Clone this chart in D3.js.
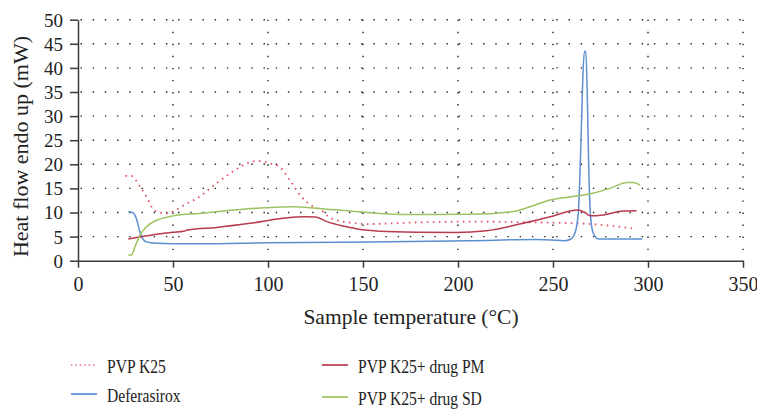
<!DOCTYPE html>
<html>
<head>
<meta charset="utf-8">
<script src="https://d3js.org/d3.v7.min.js"></script>
<style>
  body { margin: 0; background: #fff; }
  svg { display: block; }
  text { font-family: "Liberation Serif", "DejaVu Serif", serif; fill: #222; }
</style>
</head>
<body>
<script>

  // temperature (°C), heat flow (mW)
  var pvpK25 = [[25,17.6],[28,17.6],[32.5,15.4],[36,13.3],[40,10.5],[43,10.0],[47,9.8],[50,10.2],
    [56,11.6],[62.5,12.9],[69.5,15.0],[76.5,17.1],[83.5,19.0],[89.5,20.3],[95,20.7],[101,20.2],
    [106,19.5],[111.5,16.7],[117.5,13.3],[124,11.2],[128,10.5],[132,9.1],[136,8.4],[143,7.9],
    [152,7.6],[175,7.9],[206,8.1],[248,7.9],[259,7.8],[276.5,7.4],[292,6.7]];

  var deferasirox = [[26.5,10.2],[29,9.9],[31,8.4],[32.3,6.4],[33.5,5.0],[36,3.9],[41.5,3.6],
    [50,3.5],[64,3.5],[100,3.7],[152,3.9],[206,4.15],[241,4.4],[249,4.3],[256,4.15],[259,4.4],
    [261.5,5.7],[263.3,9.8],[264.6,23],[265.6,36.8],[266.5,43.4],[267.3,43.4],[268.1,33.3],
    [268.8,19.5],[269.8,9.1],[271.2,5.7],[274,4.5],[297,4.5]];

  var pvpPM = [[26.5,4.5],[32.5,4.9],[41.5,5.5],[50,5.9],[55.5,6.1],[58,6.4],[73,6.9],[90.5,7.75],
    [108,8.8],[120,9.1],[125,9.05],[131,8.1],[139.5,7.2],[150,6.4],[159,6.1],[180,5.9],[199,5.85],
    [215,6.2],[232.5,7.6],[248.5,9.1],[259,10.3],[262.5,10.5],[266.8,10.0],[269.5,9.3],
    [276.5,9.5],[287,10.3],[294,10.35]];

  var pvpSD = [[26.5,1.2],[28.2,1.2],[30,2.9],[32.6,5.3],[36,7.05],[41.5,8.4],[50,9.3],[64,9.8],
    [82,10.5],[99,11.0],[113,11.2],[125.5,10.9],[143,10.3],[159,9.8],[171,9.6],[206,9.65],
    [229,10.2],[238,11.2],[248.5,12.6],[262.5,13.4],[271,14.0],[280,15.0],[289,16.2],
    [292.3,16.2],[295.8,15.7]];

  var xTicks = [0, 50, 100, 150, 200, 250, 300, 350];
  var yTicks = [0, 5, 10, 15, 20, 25, 30, 35, 40, 45, 50];

  var series = [
    { name: "PVP K25", data: pvpK25, color: "#e05264", dash: "1.6,4.4" },
    { name: "Deferasirox", data: deferasirox, color: "#5b8fd2", dash: null },
    { name: "PVP K25+ drug PM", data: pvpPM, color: "#b83a4e", dash: null },
    { name: "PVP K25+ drug SD", data: pvpSD, color: "#9cc35f", dash: null }
  ];

  var width = 757, height = 409;
  var plotLeft = 78, plotRight = 743, plotTop = 19.7, plotBottom = 260.7;

  var svg = d3.select("body").append("svg")
    .attr("width", width)
    .attr("height", height);

  var x = d3.scaleLinear().domain([0, 350]).range([plotLeft, plotRight]);
  var y = d3.scaleLinear().domain([0, 50]).range([plotBottom, plotTop]);

  // dotted grid
  svg.append("g").selectAll("line")
    .data(yTicks.slice(1))
    .enter().append("line")
      .attr("x1", plotLeft + 2.5).attr("x2", plotRight)
      .attr("y1", function(d) { return y(d); })
      .attr("y2", function(d) { return y(d); })
      .attr("stroke", "#222")
      .attr("stroke-width", 1.4)
      .attr("stroke-dasharray", "1.4,10.8");

  svg.append("g").selectAll("line")
    .data(xTicks.slice(1))
    .enter().append("line")
      .attr("x1", function(d) { return x(d); })
      .attr("x2", function(d) { return x(d); })
      .attr("y1", plotTop).attr("y2", plotBottom - 2)
      .attr("stroke", "#222")
      .attr("stroke-width", 1.4)
      .attr("stroke-dasharray", "1.4,10.65");

  // axes
  var xAxis = svg.append("g")
    .attr("transform", "translate(0," + plotBottom + ")")
    .call(d3.axisBottom(x).tickValues(xTicks).tickSizeInner(7).tickSizeOuter(0).tickPadding(9));

  var yAxis = svg.append("g")
    .attr("transform", "translate(" + plotLeft + ",0)")
    .call(d3.axisLeft(y).tickValues(yTicks).tickSizeInner(8).tickSizeOuter(0).tickPadding(7));

  [xAxis, yAxis].forEach(function(a) {
    a.select(".domain").attr("stroke", "#3a3a3a").attr("stroke-width", 1.5);
    a.selectAll(".tick line").attr("stroke", "#3a3a3a").attr("stroke-width", 1.5);
    a.selectAll(".tick text").attr("fill", "#222").attr("font-family", "Liberation Serif, serif");
  });
  xAxis.selectAll(".tick text").attr("font-size", 20);
  yAxis.selectAll(".tick text").attr("font-size", 19).attr("dy", "0.34em");

  // axis titles
  svg.append("text")
    .attr("x", 411).attr("y", 324)
    .attr("text-anchor", "middle")
    .attr("font-size", 21.5)
    .text("Sample temperature (°C)");

  svg.append("text")
    .attr("transform", "translate(28,146.5) rotate(-90)")
    .attr("text-anchor", "middle")
    .attr("font-size", 22)
    .text("Heat flow endo up (mW)");

  // curves
  var line = d3.line()
    .x(function(d) { return x(d[0]); })
    .y(function(d) { return y(d[1]); })
    .curve(d3.curveMonotoneX);

  svg.append("g").selectAll("path")
    .data(series)
    .enter().append("path")
      .attr("d", function(d) { return line(d.data); })
      .attr("fill", "none")
      .attr("stroke", function(d) { return d.color; })
      .attr("stroke-width", function(d) { return d.dash ? 1.8 : 1.5; })
      .attr("stroke-dasharray", function(d) { return d.dash; });

  // legend
  var legendPos = [
    { lx: 71, ly: 365, ty: 373 },
    { lx: 71, ly: 394, ty: 402 },
    { lx: 322, ly: 365, ty: 373 },
    { lx: 322, ly: 397, ty: 404.5 }
  ];

  var legend = svg.append("g").selectAll("g")
    .data(series)
    .enter().append("g");

  legend.append("line")
    .attr("x1", function(d, i) { return legendPos[i].lx; })
    .attr("x2", function(d, i) { return legendPos[i].lx + 26; })
    .attr("y1", function(d, i) { return legendPos[i].ly; })
    .attr("y2", function(d, i) { return legendPos[i].ly; })
    .attr("stroke", function(d) { return d.color; })
    .attr("stroke-width", function(d) { return d.dash ? 1.6 : 2; })
    .attr("stroke-dasharray", function(d) { return d.dash ? "1.4,3" : null; })
    .attr("opacity", 0.85);

  legend.append("text")
    .attr("transform", function(d, i) {
      return "translate(" + (legendPos[i].lx + 36) + "," + legendPos[i].ty + ") scale(0.8,1)";
    })
    .attr("font-size", 19.5)
    .text(function(d) { return d.name; });

</script>
</body>
</html>
